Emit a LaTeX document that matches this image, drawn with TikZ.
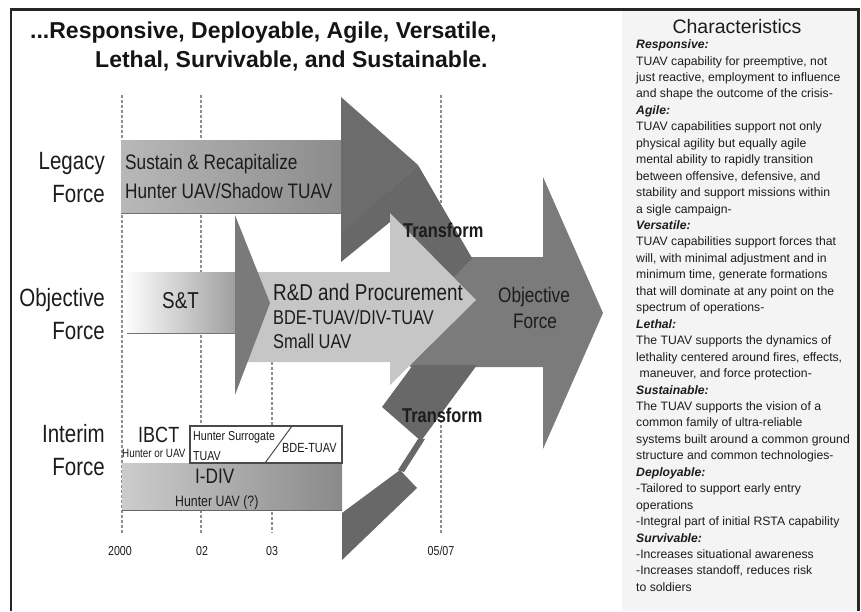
\documentclass[tikz,border=0pt]{standalone}
\usepackage{fontspec}
\setmainfont{Liberation Sans}
\newfontfamily\narrowfont[FakeStretch=0.82]{Liberation Sans}
\definecolor{txt}{HTML}{1C1C1C}
\definecolor{panelc}{HTML}{F4F4F4}
\definecolor{objc}{HTML}{7B7B7B}
\definecolor{trc}{HTML}{686868}
\definecolor{headc}{HTML}{6C6C6C}
\definecolor{legL}{HTML}{B8B8B8}
\definecolor{legR}{HTML}{8C8C8C}
\definecolor{rdc}{HTML}{C6C6C6}
\definecolor{stc}{HTML}{7A7A7A}
\definecolor{dashc}{HTML}{8E8E8E}
\definecolor{boxc}{HTML}{4A4A4A}
\tikzset{
  gridline/.style={draw=dashc, line width=1.6pt, dash pattern=on 2.5pt off 2.5pt},
  forcelbl/.style={anchor=east, align=right, inner sep=0pt, text=txt,
    font=\narrowfont\fontsize{25}{33}\selectfont},
  txtnode/.style={anchor=base west, inner sep=0pt, text=txt},
  ctrnode/.style={anchor=base, inner sep=0pt, text=txt},
  nar/.style={font=\narrowfont\fontsize{#1}{#1}\selectfont},
  narb/.style={font=\narrowfont\bfseries\fontsize{#1}{#1}\selectfont},
}
\begin{document}
\begin{tikzpicture}[x=1pt,y=-1pt]
\useasboundingbox (0,0) rectangle (861,611);
% right panel background
\fill[panelc] (622,11) rectangle (857,611);
% frame
\draw[line width=2.5pt, black!85] (11,611) -- (11,9.5) -- (858.5,9.5) -- (858.5,611);

% grid lines
\draw[gridline] (122,95) -- (122,533);
\draw[gridline] (201,95) -- (201,533);
\draw[gridline] (272,362) -- (272,533);
\draw[gridline] (441,95) -- (441,533);

% Objective force arrow
\fill[objc] (410,257) -- (543,257) -- (543,177) -- (603,313) -- (543,449) -- (543,367) -- (410,367) -- cycle;
% upper transform band
\fill[trc] (341,262) -- (341,233) -- (418,165) -- (472,258) -- (440,292) -- (390,222) -- cycle;
% legacy arrow
\shade[left color=legL, right color=legR] (121,140) rectangle (341,213);
\draw[legR!80!black, line width=0.8pt] (121,213) -- (341,213);
\fill[headc] (341,97) -- (418,165) -- (341,234) -- cycle;
% lower transform
\fill[trc] (382,407) -- (413,365) -- (477,365) -- (421,441) -- cycle;
\fill[trc] (418,439) -- (425,439) -- (404,472) -- (398,470) -- cycle;
\fill[trc] (342,513) -- (400,470) -- (417,488) -- (342,560) -- cycle;
% R&D arrow
\fill[rdc] (236,272) -- (390,272) -- (390,213) -- (476,300) -- (390,385) -- (390,362) -- (236,362) -- cycle;
% S&T arrow
\shade[left color=white, middle color=black!13, right color=black!38] (124,272) rectangle (236,333);
\draw[black!55, line width=0.8pt] (127,333) -- (236,333);
\fill[stc] (235,215) -- (270,303) -- (235,395) -- cycle;
% interim
\shade[left color=black!20, middle color=black!28, right color=black!46] (122,463) rectangle (342,510);
\draw[black!60, line width=0.8pt] (122,510) -- (342,510);
\draw[boxc, line width=1.2pt, fill=white] (190,426) rectangle (342,463);
\draw[boxc, line width=1pt] (292,426) -- (265,463);

% title
\node[txtnode, font=\bfseries\fontsize{23}{23}\selectfont, text=black!92] (title1) at (30,38.5) {...Responsive, Deployable, Agile, Versatile,};
\node[txtnode, font=\bfseries\fontsize{23}{23}\selectfont, text=black!92] (title2) at (95,67.5) {Lethal, Survivable, and Sustainable.};

% force labels
\node[forcelbl] (legacy) at (105,178) {Legacy\\Force};
\node[forcelbl] (objective) at (105,314) {Objective\\Force};
\node[forcelbl] (interim) at (105,450.5) {Interim\\Force};

% bar texts
\node[txtnode, nar=21] (sustain) at (125,169) {Sustain \& Recapitalize};
\node[txtnode, nar=21] (shadow) at (125,198) {Hunter UAV/Shadow TUAV};
\node[txtnode, nar=23] (snt) at (162,308) {S\&T};
\node[txtnode, nar=23] (rd1) at (273,300) {R\&D and Procurement};
\node[txtnode, nar=20] (rd2) at (273,324) {BDE-TUAV/DIV-TUAV};
\node[txtnode, nar=20] (rd3) at (273,348) {Small UAV};
\node[ctrnode, nar=21] (obj1) at (534,302) {Objective};
\node[ctrnode, nar=21] (obj2) at (535,328) {Force};
\node[txtnode, narb=20] (tr1) at (403,237) {Transform};
\node[txtnode, narb=20] (tr2) at (402,422) {Transform};
\node[txtnode, nar=22] (ibct) at (138,442) {IBCT};
\node[txtnode, nar=12] (hou) at (122,457) {Hunter or UAV};
\node[txtnode, nar=13] (hs1) at (193,440) {Hunter Surrogate};
\node[txtnode, nar=13] (hs2) at (193,460) {TUAV};
\node[txtnode, nar=13.3] (bde) at (282,452) {BDE-TUAV};
\node[txtnode, nar=21] (idiv) at (195,483) {I-DIV};
\node[txtnode, nar=15] (huav) at (175,506) {Hunter UAV (?)};

% axis labels
\node[ctrnode, nar=13] (y00) at (120,555) {2000};
\node[ctrnode, nar=13] (y02) at (202,555) {02};
\node[ctrnode, nar=13] (y03) at (272,555) {03};
\node[ctrnode, nar=13] (y05) at (441,555) {05/07};

% characteristics
\node[ctrnode, font=\fontsize{19.5}{19.5}\selectfont] (chartitle) at (737,33) {Characteristics};
\node[anchor=north west, align=left, inner sep=0pt, text=txt, font=\fontsize{12.2}{16.45}\selectfont] (chars) at (636,39.5) {%
\textbf{\textit{Responsive:}}\\
TUAV capability for preemptive, not\\
just reactive, employment to influence\\
and shape the outcome of the crisis-\\
\textbf{\textit{Agile:}}\\
TUAV capabilities support not only\\
physical agility but equally agile\\
mental ability to rapidly transition\\
between offensive, defensive, and\\
stability and support missions within\\
a sigle campaign-\\
\textbf{\textit{Versatile:}}\\
TUAV capabilities support forces that\\
will, with minimal adjustment and in\\
minimum time, generate formations\\
that will dominate at any point on the\\
spectrum of operations-\\
\textbf{\textit{Lethal:}}\\
The TUAV supports the dynamics of\\
lethality centered around fires, effects,\\
\ maneuver, and force protection-\\
\textbf{\textit{Sustainable:}}\\
The TUAV supports the vision of a\\
common family of ultra-reliable\\
systems built around a common ground\\
structure and common technologies-\\
\textbf{\textit{Deployable:}}\\
-Tailored to support early entry\\
operations\\
-Integral part of initial RSTA capability\\
\textbf{\textit{Survivable:}}\\
-Increases situational awareness\\
-Increases standoff, reduces risk\\
to soldiers};
\end{tikzpicture}
\end{document}
